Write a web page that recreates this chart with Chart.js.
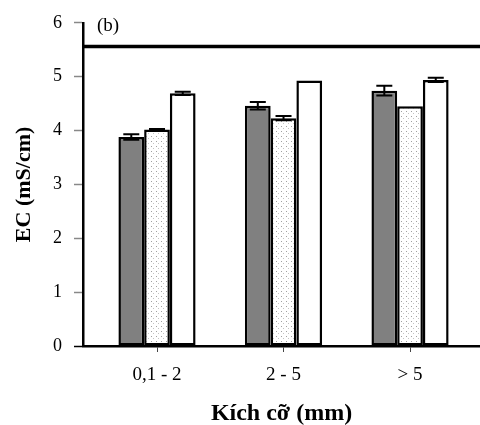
<!DOCTYPE html>
<html>
<head>
<meta charset="utf-8">
<script src="https://cdn.jsdelivr.net/npm/chart.js@4"></script>
<style>
  html, body { margin: 0; padding: 0; background: #fff; }
  #wrap { width: 480px; height: 425px; }
</style>
</head>
<body>
<div id="wrap"><canvas id="chart" width="480" height="425"></canvas></div>
<script>
const categories = ['0,1 - 2', '2 - 5', '> 5']
const darkValues = [3.88, 4.46, 4.74]
const darkErrors = [0.05, 0.07, 0.09]
const dottedValues = [4.02, 4.23, 4.45]
const dottedErrors = [0.01, 0.04, 0]
const whiteValues = [4.69, 4.93, 4.94]
const whiteErrors = [0.03, 0, 0.04]
const refLine = 5.56
const panelLabel = '(b)'

const serif = '"Liberation Serif", "Times New Roman", serif'

// light dotted fill for the middle series
function dotPattern () {
  const c = document.createElement('canvas')
  c.width = 5; c.height = 5
  const ctx = c.getContext('2d')
  ctx.fillStyle = '#fff'
  ctx.fillRect(0, 0, 5, 5)
  ctx.fillStyle = '#a0a0a0'
  ctx.fillRect(1, 1, 1, 1)
  ctx.fillStyle = '#c4c4c4'
  ctx.fillRect(3, 3, 1, 1)
  return ctx.createPattern(c, 'repeat')
}

const toPoints = (vals) => vals.map((v, i) => ({ x: i, y: v }))

const extras = {
  id: 'extras',
  afterDatasetsDraw (chart) {
    const { ctx, chartArea, scales: { y } } = chart
    const errs = [darkErrors, dottedErrors, whiteErrors]
    ctx.save()
    ctx.strokeStyle = '#000'
    ctx.lineWidth = 2
    chart.data.datasets.forEach((ds, di) => {
      const meta = chart.getDatasetMeta(di)
      meta.data.forEach((bar, i) => {
        const e = errs[di][i]
        if (!e) { return }
        const v = ds.data[i].y
        const top = y.getPixelForValue(v + e)
        const bot = y.getPixelForValue(v - e)
        const half = 8
        ctx.beginPath()
        ctx.moveTo(bar.x, top); ctx.lineTo(bar.x, bot)
        ctx.moveTo(bar.x - half, top); ctx.lineTo(bar.x + half, top)
        ctx.moveTo(bar.x - half, bot); ctx.lineTo(bar.x + half, bot)
        ctx.stroke()
      })
    })
    // reference line
    const ry = y.getPixelForValue(refLine)
    ctx.lineWidth = 3.5
    ctx.beginPath()
    ctx.moveTo(chartArea.left, ry)
    ctx.lineTo(chartArea.right, ry)
    ctx.stroke()
    // panel label
    ctx.fillStyle = '#000'
    ctx.font = '19px ' + serif
    ctx.textBaseline = 'middle'
    ctx.fillText(panelLabel, chartArea.left + 14, y.getPixelForValue(5.94))
    ctx.restore()
  }
}

const barStyle = {
  borderColor: '#000',
  borderWidth: 2.5,
  borderSkipped: false,
  categoryPercentage: 0.61,
  barPercentage: 1.0
}

new Chart(document.getElementById('chart'), {
  type: 'bar',
  data: {
    datasets: [
      Object.assign({ label: 'a', data: toPoints(darkValues), backgroundColor: '#808080' }, barStyle),
      Object.assign({ label: 'b', data: toPoints(dottedValues), backgroundColor: dotPattern() }, barStyle),
      Object.assign({ label: 'c', data: toPoints(whiteValues), backgroundColor: '#fff' }, barStyle)
    ]
  },
  options: {
    responsive: false,
    animation: false,
    layout: { padding: { top: 15, right: 0, left: 0, bottom: 0 } },
    plugins: {
      legend: { display: false },
      tooltip: { enabled: false }
    },
    scales: {
      x: {
        type: 'linear',
        offset: false,
        min: -0.585,
        max: 2.553,
        afterBuildTicks: (scale) => { scale.ticks = categories.map((_, i) => ({ value: i })) },
        afterFit: (scale) => { scale.height = 79 },
        grid: {
          offset: false,
          drawOnChartArea: false,
          tickLength: 6,
          tickColor: '#444',
          tickWidth: 1
        },
        border: { color: '#000', width: 2.5 },
        ticks: {
          color: '#000',
          padding: 12,
          autoSkip: false,
          maxRotation: 0,
          font: { family: serif, size: 19 },
          callback: (v) => categories[v]
        },
        title: {
          display: true,
          text: 'Kích cỡ (mm)',
          color: '#000',
          font: { family: serif, size: 24, weight: 'bold' },
          padding: { top: 0, bottom: -3 }
        }
      },
      y: {
        min: 0,
        max: 6,
        afterFit: (scale) => { scale.width = 83 },
        grid: {
          drawOnChartArea: false,
          tickLength: 9,
          tickColor: (c) => c.tick && c.tick.value === 0 ? '#000' : '#888',
          tickWidth: 1.5
        },
        border: { color: '#000', width: 2.5 },
        ticks: {
          stepSize: 1,
          color: '#000',
          padding: 12,
          font: { family: serif, size: 18 }
        },
        title: {
          display: true,
          text: 'EC (mS/cm)',
          color: '#000',
          font: { family: serif, size: 22, weight: 'bold' },
          padding: { top: 11, bottom: 0 }
        }
      }
    }
  },
  plugins: [extras]
})
</script>
</body>
</html>
